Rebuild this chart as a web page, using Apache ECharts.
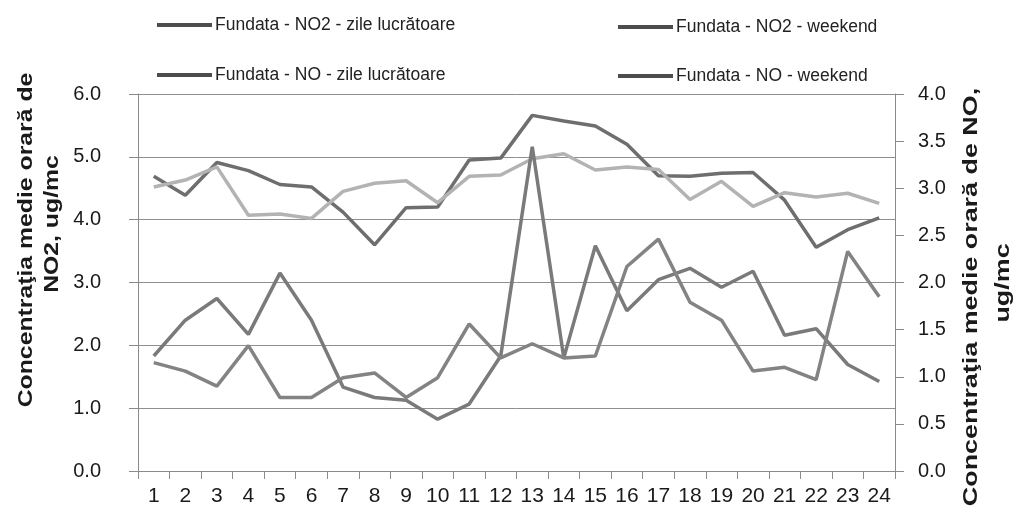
<!DOCTYPE html>
<html>
<head>
<meta charset="utf-8">
<script src="https://cdn.jsdelivr.net/npm/echarts@6/dist/echarts.min.js"></script>
<style>
  html, body { margin: 0; padding: 0; background: #fff; }
  #graph { width: 1019px; height: 514px; }
</style>
</head>
<body>
<div id="graph"></div>
<script>
var hours = ['1', '2', '3', '4', '5', '6', '7', '8', '9', '10', '11', '12',
             '13', '14', '15', '16', '17', '18', '19', '20', '21', '22', '23', '24'];

// NO2, left axis
var no2Lucr = [4.69, 4.39, 4.91, 4.78, 4.56, 4.52, 4.12, 3.60, 4.19, 4.20, 4.95, 4.98,
               5.66, 5.57, 5.49, 5.20, 4.70, 4.69, 4.74, 4.75, 4.31, 3.56, 3.84, 4.03];
var no2Wknd = [4.52, 4.63, 4.84, 4.07, 4.09, 4.02, 4.45, 4.58, 4.62, 4.27, 4.69, 4.71,
               4.97, 5.05, 4.79, 4.84, 4.80, 4.32, 4.61, 4.21, 4.43, 4.36, 4.42, 4.26];

// NO, right axis
var noLucr = [1.22, 1.60, 1.83, 1.45, 2.10, 1.60, 0.89, 0.78, 0.75, 0.55, 0.71, 1.22,
              3.44, 1.20, 2.39, 1.70, 2.03, 2.15, 1.95, 2.12, 1.44, 1.51, 1.13, 0.95];
var noWknd = [1.15, 1.06, 0.90, 1.33, 0.78, 0.78, 0.99, 1.04, 0.78, 0.99, 1.56, 1.20,
              1.35, 1.20, 1.22, 2.17, 2.46, 1.79, 1.60, 1.06, 1.10, 0.97, 2.33, 1.85];

var leftTicks = [0, 6, 1];
var rightTicks = [0, 4, 0.5];

var names = ['Fundata - NO2 - zile lucrătoare', 'Fundata - NO2 - weekend',
             'Fundata - NO - zile lucrătoare', 'Fundata - NO - weekend'];

var font = "'Liberation Sans', Arial, sans-serif";
var dom = document.getElementById("graph");
var myChart = echarts.init(dom);

function leg(name, left, top) {
    return {
        data: [{ name: name, itemStyle: { color: '#4d4d4d' } }],
        left: left,
        top: top,
        icon: 'rect',
        itemWidth: 55,
        itemHeight: 4,
        itemGap: 0,
        textStyle: { fontFamily: font, fontSize: 17.5, color: '#222', padding: [0, 0, 0, -2] }
    };
}

function title(text, x, y, stretch) {
    return {
        type: 'text', x: x, y: y, rotation: Math.PI / 2, scaleX: stretch,
        style: { text: text, font: 'bold 21px ' + font, fill: '#1a1a1a',
                 textAlign: 'center', textVerticalAlign: 'middle' }
    };
}

var option = {
    animation: false,
    textStyle: { fontFamily: font },
    legend: [
        leg(names[0], 152, 11),
        leg(names[1], 613, 13),
        leg(names[2], 152, 61),
        leg(names[3], 613, 62)
    ],
    grid: { left: 138, right: 124, top: 94, bottom: 43 },
    xAxis: {
        type: 'category',
        data: hours,
        boundaryGap: true,
        axisLine: { lineStyle: { color: '#8a8a8a' } },
        axisTick: { show: true, length: 8, lineStyle: { color: '#8a8a8a' } },
        axisLabel: { interval: 0, fontSize: 21, color: '#1a1a1a', margin: 15 }
    },
    yAxis: [{
        type: 'value',
        min: leftTicks[0], max: leftTicks[1], interval: leftTicks[2],
        axisLine: { show: true, lineStyle: { color: '#8a8a8a' } },
        axisTick: { show: true, length: 9, lineStyle: { color: '#8a8a8a' } },
        axisLabel: { fontSize: 20, color: '#1a1a1a', margin: 37,
                     formatter: function (v) { return v.toFixed(1); } },
        splitLine: { lineStyle: { color: '#8f8f8f', width: 1 } }
    }, {
        type: 'value',
        position: 'right',
        min: rightTicks[0], max: rightTicks[1], interval: rightTicks[2],
        axisLine: { show: true, lineStyle: { color: '#8a8a8a' } },
        axisTick: { show: true, length: 9, lineStyle: { color: '#8a8a8a' } },
        axisLabel: { fontSize: 20, color: '#1a1a1a', margin: 23,
                     formatter: function (v) { return v.toFixed(1); } },
        splitLine: { show: false }
    }],
    graphic: [
        title('Concentraţia medie orară de', 26, 240, 1.18),
        title('NO2, ug/mc', 52, 224, 1.18),
        title('Concentraţia medie orară de NO,', 971, 297, 1.28),
        title('ug/mc', 1003, 283, 1.28)
    ],
    series: [{
        name: names[0], type: 'line', yAxisIndex: 0, data: no2Lucr,
        symbol: 'none', lineStyle: { color: '#6e6e6e', width: 3.5 }, itemStyle: { color: '#6e6e6e' }
    }, {
        name: names[1], type: 'line', yAxisIndex: 0, data: no2Wknd,
        symbol: 'none', lineStyle: { color: '#b3b3b3', width: 3.5 }, itemStyle: { color: '#b3b3b3' }
    }, {
        name: names[2], type: 'line', yAxisIndex: 1, data: noLucr,
        symbol: 'none', lineStyle: { color: '#7a7a7a', width: 3.5 }, itemStyle: { color: '#7a7a7a' }
    }, {
        name: names[3], type: 'line', yAxisIndex: 1, data: noWknd,
        symbol: 'none', lineStyle: { color: '#838383', width: 3.5 }, itemStyle: { color: '#838383' }
    }]
};
myChart.setOption(option, true);
</script>
</body>
</html>
